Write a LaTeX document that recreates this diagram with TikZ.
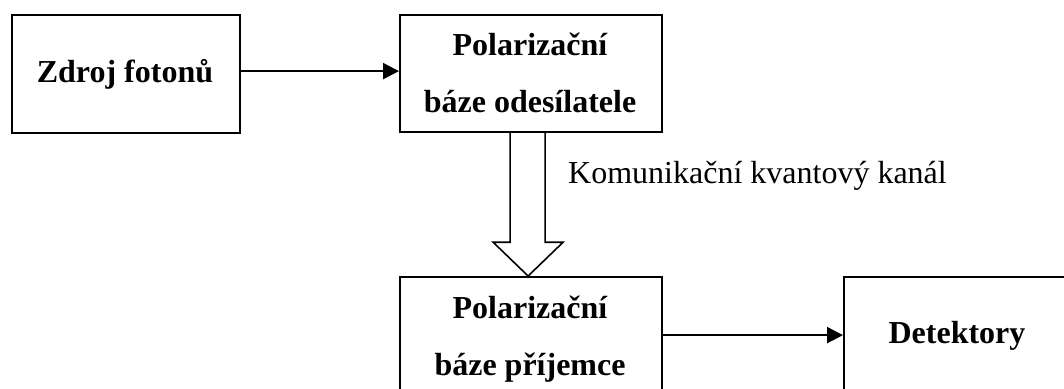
\documentclass[tikz,border=0pt]{standalone}
\usepackage{fontspec}
\setmainfont{Liberation Serif}
\usetikzlibrary{arrows.meta,calc}
\begin{document}
\begin{tikzpicture}[x=1pt,y=-1pt,
  blockbox/.style={draw,line width=2.2pt,inner sep=0pt,anchor=north west},
  boxtext/.style={font=\fontsize{32}{38}\selectfont\bfseries,anchor=base,inner sep=0pt},
  plaintext/.style={font=\fontsize{32}{38}\selectfont,anchor=base west,inner sep=0pt},
  flow/.style={line width=2.2pt,-{Triangle[length=16pt,width=16pt]}},
  channel/.style={line width=1.6pt,line join=miter}]
\useasboundingbox (0,0) rectangle (1064,388);

% blocks (the lower two run past the bottom edge)
\node[blockbox,minimum width=228pt,minimum height=118pt] (src) at (11,14) {};
\node[blockbox,minimum width=262pt,minimum height=117pt] (snd) at (399,14) {};
\node[blockbox,minimum width=262pt,minimum height=130pt] (rcv) at (399,276) {};
\node[blockbox,minimum width=230pt,minimum height=130pt] (det) at (843,276) {};

% block captions
\node[boxtext] (srcT) at (125,82) {Zdroj fotonů};
\node[boxtext] (sndT1) at (530,55) {Polarizační};
\node[boxtext] (sndT2) at (530,112) {báze odesílatele};
\node[boxtext] (rcvT1) at (530,318) {Polarizační};
\node[boxtext] (rcvT2) at (530,375) {báze příjemce};
\node[boxtext] (detT) at (957,343) {Detektory};

% channel caption
\node[plaintext] (chan) at (568,183) {Komunikační kvantový kanál};

% photon paths
\draw[flow] ([yshift=3pt]src.east) -- ([yshift=3pt]src.east -| snd.west);
\draw[flow] ([yshift=7pt]rcv.east) -- ([yshift=7pt]rcv.east -| det.west);

% hollow block arrow between the polarisation bases
\draw[channel]
  ($(snd.south)+(-21,0)$) -- ($(snd.south)+(-21,109)$)
  -- ($(snd.south)+(-38,109)$) -- ($(rcv.north)+(-3,0)$)
  -- ($(snd.south)+(32,109)$) -- ($(snd.south)+(14,109)$)
  -- ($(snd.south)+(14,0)$);
\end{tikzpicture}
\end{document}
